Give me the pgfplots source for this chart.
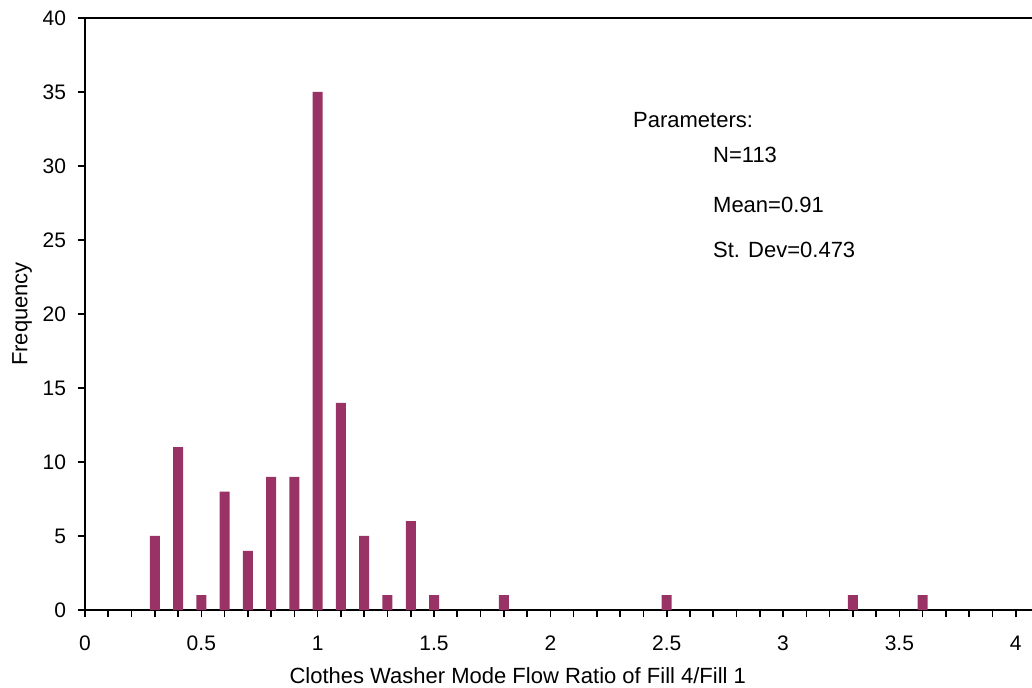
\documentclass[border=0pt]{standalone}
\usepackage{pgfplots}
\pgfplotsset{compat=1.18}
\usepackage{fontspec}
\setmainfont{Liberation Sans}
\definecolor{plum}{HTML}{993366}

\begin{document}
\begin{tikzpicture}
\begin{axis}[
    scale only axis,
    width=473.5bp,
    height=296bp,
    xmin=0, xmax=4.07,
    ymin=0, ymax=40,
    axis x line=box,
    axis y line=left,
    y axis line style={-},
    x axis line style={-},
    axis line style={line width=0.8bp},
    xtick={0,0.5,...,4},
    minor xtick={0.1,0.2,...,4.05},
    ytick={0,5,...,40},
    xtick pos=bottom,
    ytick pos=left,
    tick align=outside,
    major tick length=3.5bp,
    minor tick length=3.5bp,
    tick style={line width=0.8bp, black},
    /pgf/number format/assume math mode=true,
    ticklabel style={font=\fontsize{10.5bp}{12bp}\selectfont},
    xticklabel style={yshift=-6bp},
    yticklabel style={xshift=-2.5bp},
    label style={font=\fontsize{11bp}{13bp}\selectfont},
    xlabel={Clothes Washer Mode Flow Ratio of Fill 4/Fill 1},
    ylabel={Frequency},
    xlabel style={at={(rel axis cs:0.457,0)}, anchor=center, yshift=-33bp},
    ylabel style={at={(rel axis cs:0,0.5)}, anchor=center, yshift=31.5bp},
    ybar,
    bar width=0.043,
    clip=false,
]
\addplot[fill=plum, draw=none] coordinates {
    (0.3,5) (0.4,11) (0.5,1) (0.6,8) (0.7,4) (0.8,9) (0.9,9)
    (1.0,35) (1.1,14) (1.2,5) (1.3,1) (1.4,6) (1.5,1)
    (1.8,1) (2.5,1) (3.3,1) (3.6,1)
};
% parameter box text
\node[anchor=west, inner sep=0pt, font=\fontsize{11bp}{13bp}\selectfont] at (axis cs:2.354,33.1) {Parameters:};
\node[anchor=west, inner sep=0pt, font=\fontsize{11bp}{13bp}\selectfont] at (axis cs:2.698,30.74) {N=113};
\node[anchor=west, inner sep=0pt, font=\fontsize{11bp}{13bp}\selectfont] at (axis cs:2.698,27.36) {Mean=0.91};
\node[anchor=west, inner sep=0pt, font=\fontsize{11bp}{13bp}\selectfont] at (axis cs:2.698,24.3) {St. Dev=0.473};
\coordinate (bbsw) at (rel axis cs:0,0);
\coordinate (bbne) at (rel axis cs:1,1);
\end{axis}
\pgfresetboundingbox
\path ([shift={(-42.5bp,-39bp)}]bbsw) rectangle ([shift={(0bp,9bp)}]bbne);
\end{tikzpicture}
\end{document}
